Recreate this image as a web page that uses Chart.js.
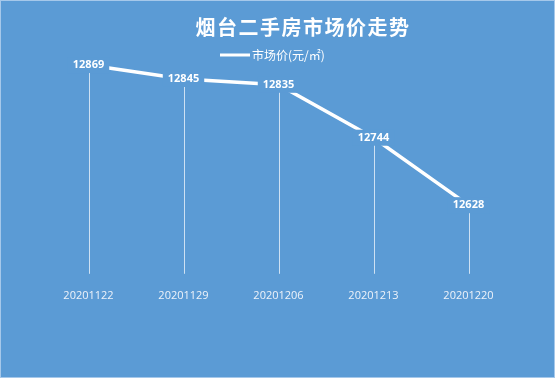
<!DOCTYPE html>
<html>
<head>
<meta charset="utf-8">
<script src="https://cdn.jsdelivr.net/npm/chart.js@4/dist/chart.umd.min.js"></script>
<style>
  html, body { margin: 0; padding: 0; background: #5b9bd5; }
  #wrap { width: 555px; height: 378px; }
</style>
</head>
<body>
<div id="wrap"><canvas id="priceChart" width="555" height="378"></canvas></div>
<script>
// chart data
const dates = ['20201122', '20201129', '20201206', '20201213', '20201220'];
const prices = [12869, 12845, 12835, 12744, 12628];
const seriesName = '市场价(元/㎡)';
const chartTitle = '烟台二手房市场价走势';
const yMin = 12510;
const yMax = 12900;

const bg = '#5b9bd5';

// background, frame, title and legend
const decorPlugin = {
    id: 'decor',
    beforeDraw(chart) {
        const c = chart.ctx;
        c.save();
        c.fillStyle = bg;
        c.fillRect(0, 0, chart.width, chart.height);
        c.strokeStyle = '#a6c8ea';
        c.lineWidth = 1;
        c.strokeRect(0.5, 0.5, chart.width - 1, chart.height - 1);
        c.restore();
    },
    afterDraw(chart) {
        const c = chart.ctx;
        c.save();
        c.fillStyle = '#ffffff';
        c.textAlign = 'center';
        c.textBaseline = 'middle';
        c.font = 'bold 20px "Noto Sans CJK SC"';
        c.letterSpacing = '1.5px';
        c.fillText(chartTitle, 303, 27);
        c.letterSpacing = '0px';
        // legend
        c.strokeStyle = '#ffffff';
        c.lineWidth = 3;
        c.beginPath();
        c.moveTo(220, 55);
        c.lineTo(250, 55);
        c.stroke();
        c.textAlign = 'left';
        c.font = '12px "Noto Sans CJK SC"';
        c.fillText(seriesName, 252, 55);
        c.restore();
    }
};

// drop lines from each point and boxed value labels
const labelPlugin = {
    id: 'valueLabels',
    beforeDatasetsDraw(chart) {
        const c = chart.ctx;
        const meta = chart.getDatasetMeta(0);
        const bottom = chart.chartArea.bottom;
        c.save();
        c.strokeStyle = 'rgba(255,255,255,0.7)';
        c.lineWidth = 1;
        meta.data.forEach(pt => {
            const x = Math.round(pt.x) + 0.5;
            c.beginPath();
            c.moveTo(x, pt.y);
            c.lineTo(x, bottom);
            c.stroke();
        });
        c.restore();
    },
    afterDatasetsDraw(chart) {
        const c = chart.ctx;
        const meta = chart.getDatasetMeta(0);
        c.save();
        c.font = 'bold 11px "Open Sans"';
        c.textAlign = 'center';
        c.textBaseline = 'middle';
        meta.data.forEach((pt, i) => {
            const txt = String(prices[i]);
            const w = c.measureText(txt).width + 10;
            c.fillStyle = bg;
            c.fillRect(pt.x - w / 2, pt.y - 8, w, 16);
            c.fillStyle = '#ffffff';
            c.fillText(txt, pt.x, pt.y);
        });
        c.restore();
    }
};

const ctx = document.getElementById('priceChart').getContext('2d');
const priceChart = new Chart(ctx, {
    type: 'line',
    data: {
        labels: dates,
        datasets: [{
            label: seriesName,
            data: prices,
            borderColor: '#ffffff',
            borderWidth: 3.5,
            pointRadius: 0,
            tension: 0,
            fill: false
        }]
    },
    options: {
        responsive: false,
        animation: false,
        layout: {
            padding: { left: 41, right: 39, top: 47, bottom: 61 }
        },
        plugins: {
            legend: { display: false },
            title: { display: false },
            tooltip: { enabled: false }
        },
        scales: {
            x: {
                offset: true,
                grid: { display: false, drawTicks: false },
                border: { display: false },
                ticks: {
                    color: '#eef3fa',
                    padding: 15,
                    font: { family: 'Open Sans', size: 11 }
                }
            },
            y: {
                display: false,
                min: yMin,
                max: yMax
            }
        }
    },
    plugins: [decorPlugin, labelPlugin]
});
</script>
</body>
</html>
